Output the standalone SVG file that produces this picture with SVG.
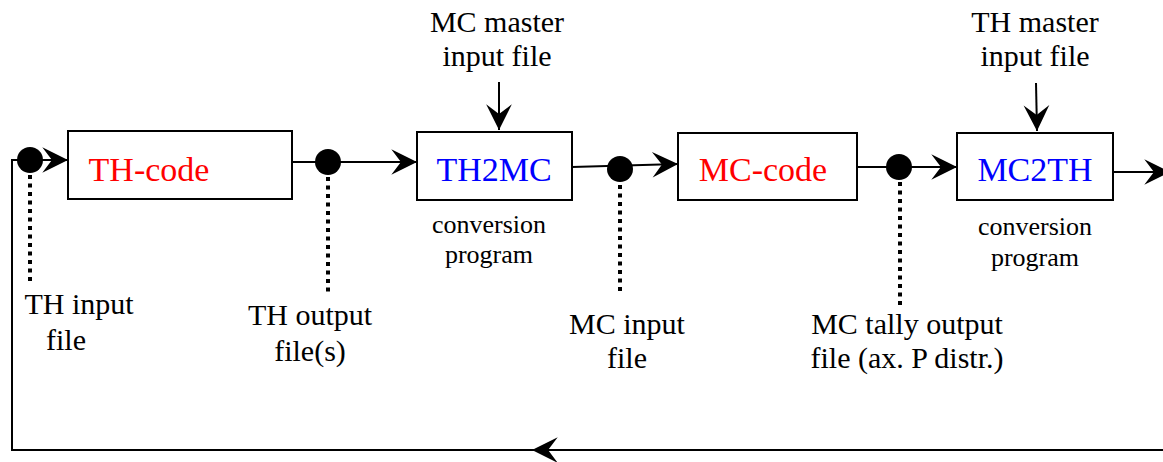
<svg xmlns="http://www.w3.org/2000/svg" width="1163" height="462" viewBox="0 0 1163 462">
<style>
.box{fill:#fff;stroke:#000;stroke-width:2}
.ln{fill:none;stroke:#000;stroke-width:2}
.dot{fill:none;stroke:#000;stroke-width:4;stroke-dasharray:4 4.5}
.lbl{font-family:"Liberation Serif","Times New Roman",serif;font-size:30px;fill:#000;text-anchor:middle}
.sm{font-family:"Liberation Serif","Times New Roman",serif;font-size:26px;fill:#000;text-anchor:middle}
.red{font-family:"Liberation Serif","Times New Roman",serif;font-size:34px;fill:#ff0000;text-anchor:middle}
.blue{font-family:"Liberation Serif","Times New Roman",serif;font-size:34px;fill:#0000ff;text-anchor:middle}
.jn{fill:#000}
</style>
<defs>
<marker id="ah" markerUnits="userSpaceOnUse" markerWidth="30" markerHeight="30" viewBox="-26 -14 28 28" refX="0" refY="0" orient="auto">
<path d="M0,0 L-24,-12 L-15,0 L-24,12 Z" fill="#000"/>
</marker>
</defs>
<g id="connectors">
<path class="ln" d="M1163,450 H532" marker-end="url(#ah)"/>
<path class="ln" d="M540,450 H12 V160 H68" marker-end="url(#ah)"/>
<path class="ln" d="M292,162 H417" marker-end="url(#ah)"/>
<path class="ln" d="M572,167 L678,164" marker-end="url(#ah)"/>
<path class="ln" d="M857,167 H957" marker-end="url(#ah)"/>
<path class="ln" d="M1113,172 H1170" marker-end="url(#ah)"/>
<path class="ln" d="M499,82 V130" marker-end="url(#ah)"/>
<path class="ln" d="M1036,83 L1037,131" marker-end="url(#ah)"/>
<path class="dot" d="M30,175 V285"/>
<path class="dot" d="M328,177 V293"/>
<path class="dot" d="M620,185 V295"/>
<path class="dot" d="M900,182 V305"/>
</g>
<g id="j1"><circle class="jn" cx="30" cy="160" r="13"/></g>
<g id="j2"><circle class="jn" cx="328" cy="162" r="13"/></g>
<g id="j3"><circle class="jn" cx="620" cy="169" r="13"/></g>
<g id="j4"><circle class="jn" cx="899" cy="167" r="13"/></g>
<g id="th-code">
<rect class="box" x="68" y="131" width="224" height="68"/>
<text class="red" x="149" y="181">TH-code</text>
</g>
<g id="th2mc">
<rect class="box" x="417" y="132" width="155" height="68"/>
<text class="blue" x="494" y="181">TH2MC</text>
<text class="sm" x="489" y="233">conversion</text>
<text class="sm" x="489" y="263">program</text>
</g>
<g id="mc-code">
<rect class="box" x="678" y="133" width="179" height="67"/>
<text class="red" x="763" y="181">MC-code</text>
</g>
<g id="mc2th">
<rect class="box" x="957" y="133" width="156" height="67"/>
<text class="blue" x="1035" y="181">MC2TH</text>
<text class="sm" x="1035" y="235">conversion</text>
<text class="sm" x="1035" y="266">program</text>
</g>
<g id="mc-master">
<text class="lbl" x="497" y="32">MC master</text>
<text class="lbl" x="497" y="66">input file</text>
</g>
<g id="th-master">
<text class="lbl" x="1035" y="32">TH master</text>
<text class="lbl" x="1035" y="66">input file</text>
</g>
<g id="th-input">
<text class="lbl" x="79" y="314">TH input</text>
<text class="lbl" x="66" y="350">file</text>
</g>
<g id="th-output">
<text class="lbl" x="310" y="325">TH output</text>
<text class="lbl" x="310" y="361">file(s)</text>
</g>
<g id="mc-input">
<text class="lbl" x="627" y="334">MC input</text>
<text class="lbl" x="627" y="368">file</text>
</g>
<g id="mc-tally">
<text class="lbl" x="907" y="334">MC tally output</text>
<text class="lbl" x="907" y="368">file (ax. P distr.)</text>
</g>
</svg>
